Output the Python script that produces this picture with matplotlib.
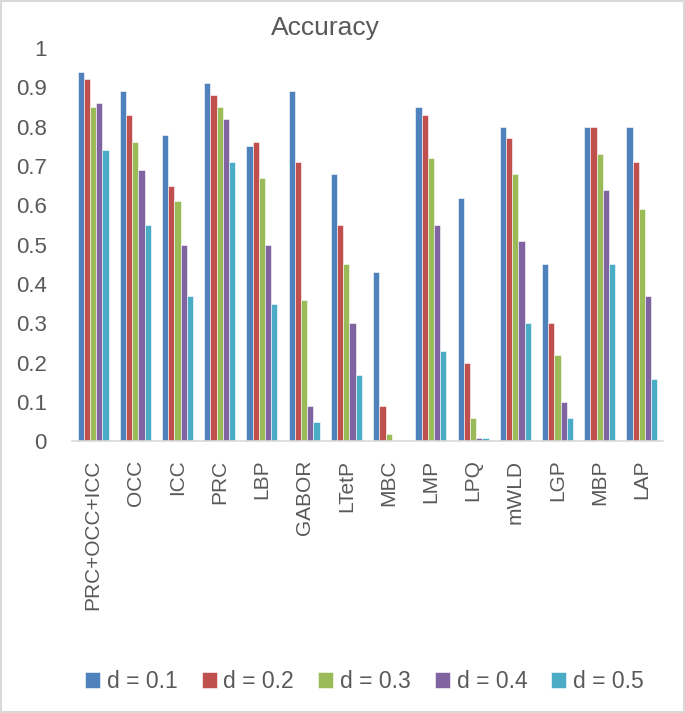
import numpy as np
import matplotlib.pyplot as plt
from matplotlib.patches import Rectangle

plt.rcParams['font.family'] = ['Liberation Sans', 'DejaVu Sans']

methods = ["PRC+OCC+ICC", "OCC", "ICC", "PRC", "LBP", "GABOR", "LTetP",
           "MBC", "LMP", "LPQ", "mWLD", "LGP", "MBP", "LAP"]
series_names = ["d = 0.1", "d = 0.2", "d = 0.3", "d = 0.4", "d = 0.5"]

d01 = [0.94, 0.89, 0.78, 0.91, 0.75, 0.89, 0.68, 0.43, 0.85, 0.62, 0.80, 0.45, 0.80, 0.80]
d02 = [0.92, 0.83, 0.65, 0.88, 0.76, 0.71, 0.55, 0.09, 0.83, 0.20, 0.77, 0.30, 0.80, 0.71]
d03 = [0.85, 0.76, 0.61, 0.85, 0.67, 0.36, 0.45, 0.02, 0.72, 0.06, 0.68, 0.22, 0.73, 0.59]
d04 = [0.86, 0.69, 0.50, 0.82, 0.50, 0.09, 0.30, 0.00, 0.55, 0.01, 0.51, 0.10, 0.64, 0.37]
d05 = [0.74, 0.55, 0.37, 0.71, 0.35, 0.05, 0.17, 0.00, 0.23, 0.01, 0.30, 0.06, 0.45, 0.16]
series = [d01, d02, d03, d04, d05]
yticks = [0, 0.1, 0.2, 0.3, 0.4, 0.5, 0.6, 0.7, 0.8, 0.9, 1]
ytick_labels = ["0", "0.1", "0.2", "0.3", "0.4", "0.5", "0.6", "0.7", "0.8", "0.9", "1"]

colors = ["#4F81BD", "#C0504D", "#9BBB59", "#8064A2", "#4BACC6"]
text_color = "#595959"

fig = plt.figure(figsize=(6.85, 7.13), dpi=100)
ax = fig.add_axes([0.1051, 0.3808, 0.8628, 0.5519])

x = np.arange(len(methods))
width = 0.147
for i, (vals, name, c) in enumerate(zip(series, series_names, colors)):
    ax.bar(x + (i - 2) * width, vals, width, color=c, label=name,
           edgecolor="white", linewidth=0.4)

ax.set_xlim(-0.5, len(methods) - 0.5)
ax.set_ylim(0, 1)
ax.set_yticks(yticks)
ax.set_yticklabels(ytick_labels)
ax.set_xticks(x)
ax.set_xticklabels(methods, rotation=90)
ax.tick_params(axis="both", length=0, colors=text_color)
ax.tick_params(axis="x", pad=13, labelsize=15)
ax.tick_params(axis="y", pad=18, labelsize=16)

for s in ["top", "right", "left"]:
    ax.spines[s].set_visible(False)
ax.spines["bottom"].set_color("#D9D9D9")
ax.spines["bottom"].set_linewidth(1.2)

fig.text(0.4745, 0.961, "Accuracy", ha="center", va="center",
         fontsize=19, color=text_color)

fig.legend(loc="center", bbox_to_anchor=(0.532, 0.044), ncol=5, frameon=False,
           fontsize=16.5, labelcolor=text_color, handlelength=0.65,
           handleheight=0.65, handletextpad=0.3, columnspacing=1.05)

fig.patches.append(Rectangle((0.002, 0.002), 0.996, 0.996, transform=fig.transFigure,
                             fill=False, edgecolor="#D9D9D9", linewidth=1.5))

fig.savefig("out.png", dpi=100)
